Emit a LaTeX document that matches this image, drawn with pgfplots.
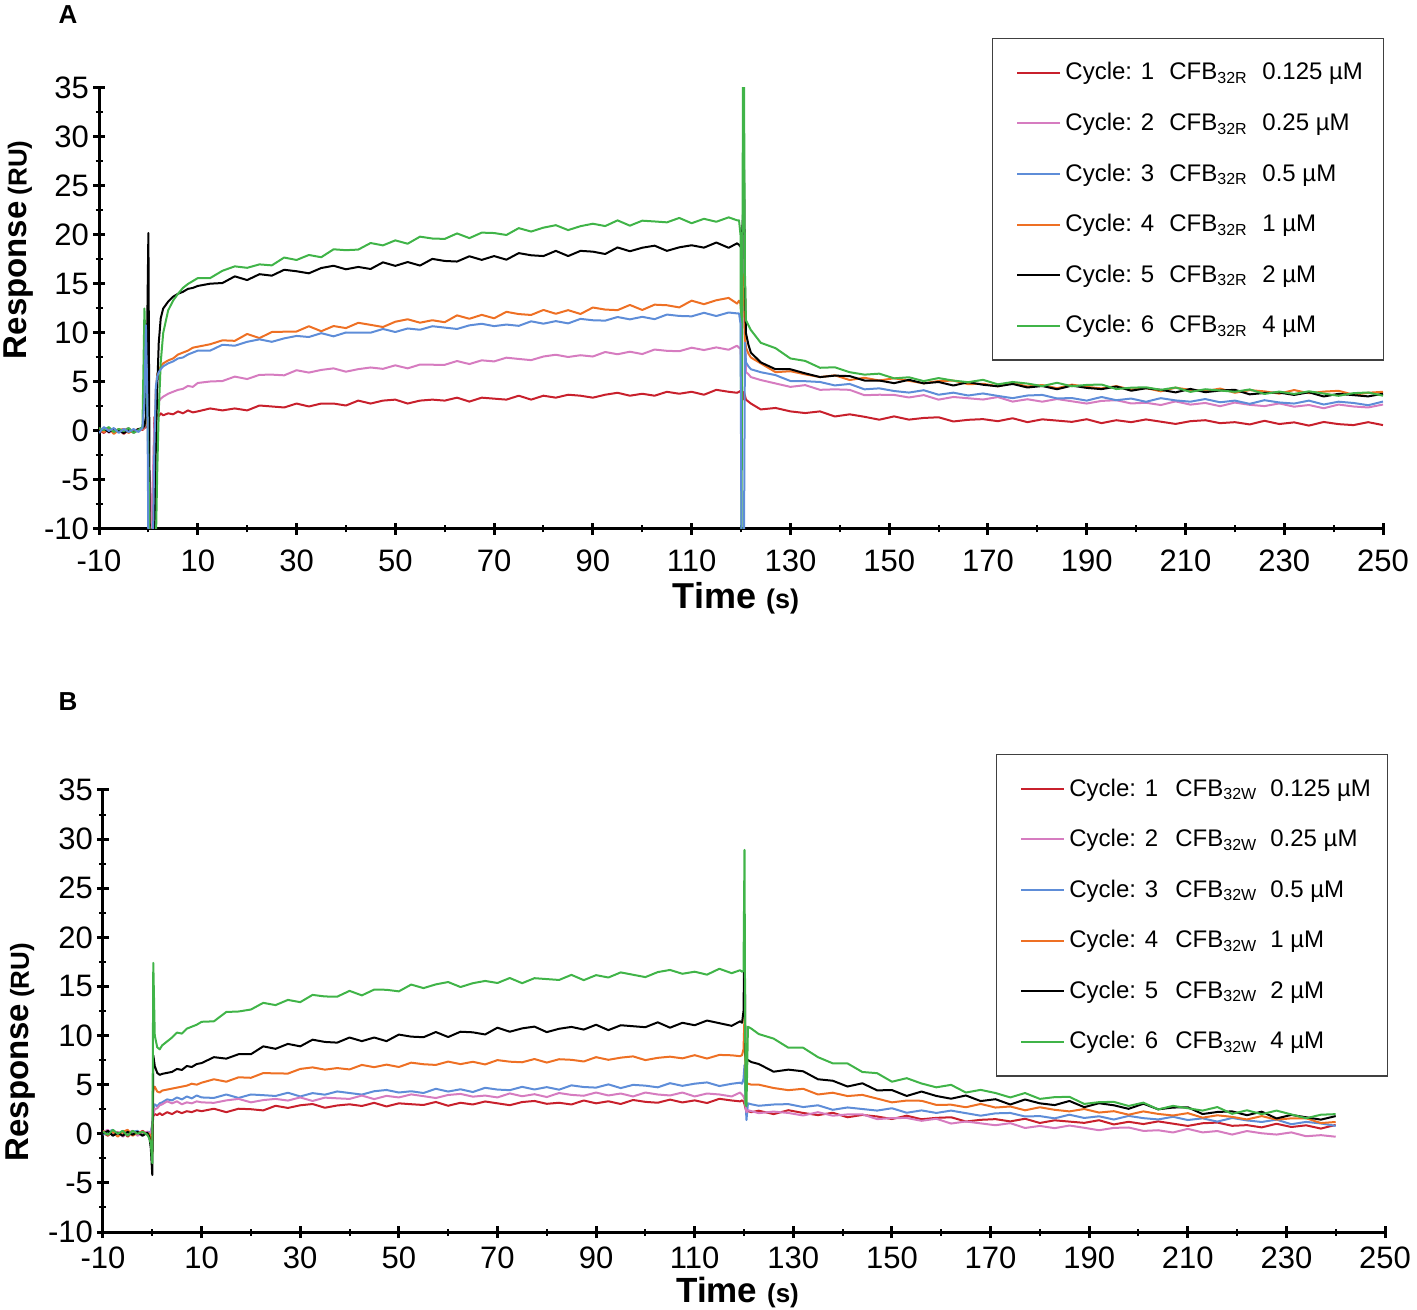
\documentclass[border=0pt]{standalone}
\usepackage{fontspec}
\setmainfont{Liberation Sans}
\usepackage{pgfplots}
\usepackage{pgfplotstable}
\pgfplotsset{compat=1.18}
\definecolor{c1}{RGB}{200,32,44}
\definecolor{c2}{RGB}{214,124,192}
\definecolor{c3}{RGB}{94,141,216}
\definecolor{c4}{RGB}{238,112,36}
\definecolor{c5}{RGB}{0,0,0}
\definecolor{c6}{RGB}{64,180,72}

\pgfplotstableread{
t r p b o k g
-10 0.1 0.0 -0.2 0.2 0.0 0.3
-9 -0.2 0.3 0.4 -0.1 0.2 0.1
-8 0.3 -0.2 0.0 0.3 -0.1 0.4
-7 -0.1 0.2 0.3 -0.3 0.2 -0.1
-6 0.2 -0.1 -0.2 0.1 0.0 0.2
-5 -0.3 0.1 0.2 0.2 -0.2 0.0
-4 0.1 0.3 -0.1 -0.2 0.1 0.3
-3 0.0 -0.2 0.2 0.1 -0.1 -0.2
-2 0.2 0.1 -0.1 0.0 0.2 0.1
-1.2 0.1 0.2 0.3 0.2 0.3 0.4
-0.8 0.3 0.4 3.0 0.5 0.5 12.5
-0.5 0.4 0.6 10.8 0.8 1.5 7.0
-0.2 0.6 0.8 3.0 1.2 12.0 2.0
0.0 0.5 0.5 -12 0.8 20.2 -3
0.3 -12 -12 -12 -12 -12 -12
0.9 -12 -5 -12 -12 -12 -12
1.2 1.4 0.5 -2 -3 -12 -12
1.5 1.5 2.2 4.5 4.0 -2 -12
1.8 1.7 2.8 5.6 5.8 4.5 -4
2.1 1.5 3.0 6.0 6.2 9.0 2.0
2.5 1.8 3.3 6.3 6.6 11.5 7.0
3.0 1.6 3.5 6.6 6.9 12.5 10.0
4.0 1.8 3.8 6.9 7.2 13.2 12.3
5.0 1.7 4.0 7.1 7.4 13.7 13.3
6.0 2.0 4.2 7.4 7.8 14.0 14.0
7.0 1.8 4.3 7.5 8.0 14.2 14.6
8.0 2.1 4.6 7.8 8.2 14.5 15.0
9.0 1.9 4.5 8.0 8.5 14.6 15.3
10 2.0 4.9 8.2 8.6 14.8 15.6
12.5 2.3 5.05 8.2 8.85 15.03 15.6
15 2.1 5.1 8.8 9.25 15.1 16.35
17.5 2.3 5.55 8.7 9.2 15.78 16.8
20 2.1 5.3 9.1 9.9 15.4 16.65
22.5 2.6 5.73 9.35 9.48 16.0 17.0
25 2.5 5.75 9.1 10.1 15.85 16.9
27.5 2.4 5.68 9.45 10.13 16.45 17.7
30 2.8 6.2 9.7 10.15 16.3 17.45
32.5 2.5 5.96 9.59 10.69 16.09 17.96
35 2.8 6.23 9.98 10.18 16.63 17.73
37.5 2.8 6.39 9.66 10.71 16.86 18.54
40 2.6 6.05 10.05 10.5 16.5 18.45
42.5 3.1 6.31 10.04 11.04 16.74 18.51
45 2.8 6.48 10.03 10.83 16.53 19.18
47.5 3.1 6.34 10.41 10.61 17.21 18.94
50 3.2 6.7 10.1 11.15 16.85 19.45
52.5 2.8 6.39 10.46 11.4 17.24 19.11
55 3.1 6.78 10.33 11.05 16.88 19.83
57.5 3.2 6.76 10.69 11.3 17.56 19.64
60 3.1 6.75 10.55 11.1 17.35 19.6
62.5 3.4 7.14 10.41 11.8 17.29 20.16
65 3.0 6.83 10.78 11.45 17.83 19.68
67.5 3.4 7.21 10.94 11.85 17.46 20.24
70 3.3 7.1 10.7 11.5 17.85 20.2
72.5 3.2 7.48 10.86 12.16 17.48 20.0
75 3.6 7.35 10.73 11.93 18.15 20.7
77.5 3.2 7.23 11.19 11.84 17.93 20.35
80 3.6 7.6 10.95 12.35 17.85 20.75
82.5 3.4 7.78 11.21 11.96 18.38 21.0
85 3.7 7.55 10.98 12.33 17.85 20.5
87.5 3.6 7.73 11.44 11.94 18.38 20.9
90 3.4 7.6 11.3 12.6 18.3 21.15
92.5 3.7 8.06 11.26 12.39 18.06 20.91
95 3.9 7.83 11.63 12.33 18.73 21.49
97.5 3.6 8.09 11.39 12.86 18.34 20.95
100 3.8 7.85 11.65 12.35 18.7 21.46
102.5 3.6 8.31 11.41 12.89 18.91 21.38
105 4.0 8.18 11.88 12.83 18.38 21.29
107.5 3.8 8.14 11.74 12.61 18.74 21.74
110 4.0 8.5 11.7 13.3 18.95 21.2
112.5 3.7 8.26 12.06 12.94 18.71 21.65
115 4.2 8.53 11.73 13.34 19.23 21.35
117.5 4.0 8.29 12.09 13.58 18.69 21.8
119.2 3.9 8.7 12.0 13.0 19.15 21.5
119.6 4.0 8.5 12.0 13.3 19.0 21.5
119.9 4.1 8.4 11.0 13.0 18.8 20.0
120.1 3.6 6.0 -12 12.0 19.0 -12
120.4 3.2 15.0 -12 16.0 22.0 36
120.6 4.0 24.0 -12 14.0 27.0 36
120.8 3.6 10.0 9.0 9.5 15.0 16.0
121.0 3.2 6.0 7.0 8.5 10.0 11.3
121.5 3.0 5.8 6.6 7.9 8.8 10.8
122 2.8 5.5 6.3 7.5 8.0 10.3
124 2.2 5.2 6.0 6.9 7.0 9.0
127 2.35 4.85 5.7 6.0 6.3 8.45
130 2.0 4.5 5.1 6.1 6.3 7.4
133 1.83 4.68 5.08 5.78 5.88 7.15
136 2.0 4.2 5.0 5.5 5.5 6.45
139 1.48 4.25 4.65 5.68 5.65 6.5
142 1.7 4.2 4.8 5.2 5.6 6.0
145 1.45 3.65 4.25 5.43 5.15 5.75
148 1.15 3.7 4.35 5.15 5.15 5.85
151 1.49 3.68 4.08 5.38 4.88 5.37
154 1.16 3.42 3.92 5.12 5.22 5.48
157 1.33 3.66 4.16 4.86 4.86 5.09
160 1.4 3.2 3.7 5.1 5.0 5.4
163 0.97 3.47 3.91 5.14 4.64 5.14
166 1.14 3.34 3.62 4.78 4.98 4.98
169 1.21 3.21 3.83 4.82 4.72 5.22
172 1.0 3.46 3.58 4.56 4.56 4.76
175 1.3 3.0 3.35 4.9 4.8 5.0
178 0.9 3.24 3.62 4.54 4.44 4.84
181 1.19 2.99 3.68 4.69 4.59 4.58
184 1.06 3.26 3.32 4.36 4.26 4.92
187 0.93 3.03 3.36 4.73 4.63 4.56
190 1.2 2.8 3.1 4.5 4.4 4.7
193 0.8 3.07 3.47 4.34 4.27 4.74
196 1.1 3.14 3.14 4.58 4.54 4.28
199 0.9 2.81 3.31 4.22 4.11 4.42
202 1.18 2.88 2.98 4.38 4.36 4.46
205 0.95 2.65 3.35 4.05 4.2 4.2
208 0.72 3.02 3.12 4.42 3.94 4.44
211 1.0 2.69 2.99 4.19 4.29 3.99
214 1.1 2.86 3.26 4.06 3.96 4.26
217 0.8 2.53 2.93 4.33 4.13 4.13
220 0.9 2.9 3.1 3.9 4.2 4.0
223 0.67 2.67 2.77 4.17 3.74 4.24
226 1.04 2.54 3.14 4.04 3.88 3.78
229 0.71 2.81 2.91 3.81 3.92 4.02
232 0.88 2.48 2.8 4.18 3.68 3.78
235 0.55 2.65 3.1 3.85 3.95 4.05
238 0.92 2.32 2.7 4.02 3.52 3.82
241 0.7 2.7 2.99 4.1 3.79 3.59
244 0.6 2.5 2.86 3.7 3.66 3.86
247 0.9 2.4 2.63 3.9 3.53 3.93
250 0.6 2.7 3.0 4.0 3.8 3.6
}\tA

\pgfplotstableread{
t r p b o k g
-10 0.1 0.2 -0.1 0.3 0.0 0.2
-9 -0.2 0.4 0.2 -0.1 0.3 -0.1
-8 0.3 -0.1 0.4 0.2 -0.2 0.4
-7 0.0 0.2 -0.2 -0.3 0.1 0.0
-6 0.2 -0.3 0.3 0.2 -0.2 0.3
-5 -0.3 0.1 0.0 0.4 0.2 -0.2
-4 0.2 0.3 0.2 -0.2 -0.1 0.3
-3 -0.1 -0.2 0.3 0.1 0.2 0.0
-2 0.3 0.1 -0.1 0.2 -0.2 0.2
-1 0.0 0.2 0.2 -0.1 0.1 -0.1
-0.6 0.1 0.1 0.2 0.0 -0.3 -0.5
-0.3 0.0 0.1 0.2 -0.5 -1.5 -1.0
0.0 0.5 0.8 1.0 -2 -4.2 -3.0
0.2 1.8 2.0 2.5 4.5 8 17.4
0.5 2.0 2.5 3.0 4.8 6.9 10.0
1.0 1.9 2.6 2.8 4.3 6.2 8.8
1.5 2.1 2.9 3.1 4.2 6.0 8.6
2.0 1.9 3.0 3.2 4.4 6.1 9.0
3.0 2.2 3.3 3.5 4.5 6.2 9.4
4.0 2.0 3.1 3.4 4.6 6.3 9.8
5 2.3 3.3 3.7 4.7 6.6 10.3
6 2.1 3.0 3.5 4.8 6.5 10.2
7 2.3 3.2 3.8 4.9 6.9 10.7
8 2.2 3.1 3.6 5.1 6.8 10.9
9 2.4 3.3 3.9 5.0 7.1 11.1
10 2.3 3.2 3.7 5.2 7.2 11.4
12.5 2.55 3.15 3.65 5.55 7.8 11.45
15 2.2 3.4 4.0 5.3 7.65 12.4
17.5 2.55 3.55 3.65 5.75 8.1 12.45
20 2.5 3.2 4.0 5.7 8.1 12.65
22.5 2.38 3.43 3.93 6.18 8.9 13.33
25 2.85 3.55 3.85 6.15 8.65 13.1
27.5 2.63 3.38 4.18 6.13 9.15 13.63
30 2.9 3.7 3.8 6.6 8.9 13.4
32.5 3.03 3.34 4.14 6.76 9.58 14.14
35 2.65 3.68 3.98 6.53 9.35 13.98
37.5 2.88 3.61 4.31 6.69 9.28 13.96
40 3.0 3.55 4.15 6.55 9.8 14.55
42.5 2.83 3.89 3.99 7.01 9.43 14.09
45 3.15 3.53 4.33 6.78 9.8 14.68
47.5 2.78 3.86 4.46 7.04 9.43 14.66
50 3.1 3.7 4.2 6.8 10.1 14.5
52.5 3.01 4.01 4.33 7.24 9.89 15.19
55 2.93 3.83 4.15 7.08 9.83 14.83
57.5 3.24 3.64 4.58 7.01 10.36 15.21
60 2.85 3.95 4.3 7.35 9.85 15.45
62.5 3.16 4.06 4.53 7.09 10.39 14.94
65 2.98 3.78 4.25 7.33 10.33 15.33
67.5 3.29 3.89 4.68 7.06 10.11 15.56
70 3.1 3.7 4.5 7.5 10.8 15.35
72.5 2.91 4.11 4.44 7.34 10.39 15.86
75 3.23 3.82 4.78 7.28 10.73 15.33
77.5 3.34 4.03 4.51 7.61 10.91 15.84
80 3.05 3.74 4.75 7.25 10.35 15.75
82.5 3.16 4.15 4.49 7.59 10.69 15.66
85 2.98 3.96 4.93 7.53 10.88 16.18
87.5 3.39 3.87 4.76 7.36 10.61 15.64
90 3.1 4.2 4.7 7.8 11.1 16.15
92.5 3.31 3.9 5.03 7.53 10.55 15.91
95 3.03 4.1 4.65 7.75 11.05 16.43
97.5 3.44 3.8 4.98 7.88 10.95 16.19
100 3.25 4.2 4.9 7.5 10.85 15.95
102.5 3.16 4.0 4.73 7.73 11.35 16.46
105 3.48 3.9 5.15 7.85 10.8 16.68
107.5 3.19 4.2 4.88 7.68 11.3 16.29
110 3.4 3.8 5.1 8.0 11.05 16.5
112.5 3.13 4.1 5.23 7.66 11.53 16.2
115 3.56 4.0 4.86 8.03 11.26 16.8
117.5 3.39 3.8 5.09 7.99 10.99 16.35
119.2 3.3 4.2 5.2 7.9 11.45 16.65
119.6 3.4 4.0 5.1 8.0 11.3 16.5
119.9 3.3 3.8 5.6 8.6 12.5 16.6
120.1 3.0 3.5 7.0 12.0 20.5 28.9
120.3 2.6 2.8 3.5 6.0 8.0 3.0
120.5 2.2 2.2 1.4 5.0 7.5 2.8
120.8 2.3 2.4 3.1 5.1 7.5 10.9
121.5 2.2 2.3 3.0 5.0 7.3 10.7
123 2.35 2.1 2.85 5.0 7.1 10.15
126 2.0 2.26 2.98 4.66 6.32 9.69
129 2.4 2.12 3.02 4.44 6.53 8.76
132 2.12 1.86 2.72 4.58 6.36 8.76
135 1.9 2.2 2.9 4.0 5.55 7.8
138 2.14 1.84 2.44 4.18 5.4 7.17
141 1.68 1.97 2.68 3.84 4.81 7.16
144 1.92 1.98 2.52 3.96 5.14 6.29
147 1.76 1.49 2.36 3.58 4.42 6.17
150 1.5 1.6 2.6 3.2 4.45 5.3
153 1.84 1.61 2.14 3.38 3.85 5.66
156 1.48 1.32 2.38 3.36 4.3 5.12
159 1.62 1.53 2.12 2.94 3.85 4.73
162 1.68 1.04 2.36 2.96 3.57 4.98
165 1.25 1.25 2.1 2.7 3.9 4.2
168 1.42 1.06 1.84 3.04 3.33 4.47
171 1.49 0.87 2.08 2.67 3.52 4.15
174 1.26 1.08 2.12 2.78 2.98 3.7
177 1.53 0.59 1.76 2.39 3.49 4.15
180 1.1 0.8 1.8 2.7 3.1 3.55
183 1.37 0.57 1.57 2.44 2.92 3.73
186 1.24 0.84 1.94 2.28 3.34 3.76
189 1.11 0.61 1.61 2.52 2.71 3.04
192 1.38 0.36 1.78 2.16 3.11 3.22
195 0.95 0.6 1.45 2.3 2.9 3.25
198 1.22 0.64 1.82 1.94 2.54 2.83
201 0.99 0.29 1.59 2.28 3.06 3.17
204 1.26 0.36 1.46 2.02 2.49 2.48
207 1.03 0.13 1.73 1.86 2.67 2.84
210 0.8 0.5 1.4 2.1 2.7 2.6
213 1.07 0.14 1.57 1.64 2.01 2.36
216 1.14 0.28 1.24 1.88 2.22 2.72
219 0.81 -0.08 1.61 1.72 2.28 2.03
222 0.88 0.28 1.36 1.46 1.89 2.39
225 0.65 0.05 1.2 1.8 2.25 2.0
228 1.02 -0.08 1.44 1.44 1.56 2.36
231 0.69 0.14 0.97 1.57 1.92 1.97
234 0.86 -0.25 1.21 1.58 1.68 1.58
237 0.53 -0.14 1.05 1.09 1.44 1.94
240 0.9 -0.3 0.8 1.2 1.8 2.0
}\tB

\newcommand{\lentA}[2]{\makebox[52pt][l]{Cycle: #1}\makebox[46.5pt][l]{CFB\textsubscript{32R}}\makebox[46.5pt][l]{#2}}
\newcommand{\lentB}[2]{\makebox[53pt][l]{Cycle: #1}\makebox[47.5pt][l]{CFB\textsubscript{32W}}\makebox[44.5pt][l]{#2}}

\pgfplotsset{
  sgram/.style={
    scale only axis, anchor=south west,
    xmin=-10, xmax=250, ymin=-10, ymax=35,
    axis x line=bottom, axis y line=left,
    axis line style={-, line width=1.5pt, black},
    xtick={-10,10,...,250}, minor xtick={0,20,...,240},
    ytick={-10,-5,...,35}, minor ytick={-7.5,-2.5,...,32.5},
    tick align=center,
    major tick length=6pt, minor tick length=3.5pt,
    major tick style={black, line width=1.5pt},
    minor tick style={black, line width=1pt},
    tick label style={font=\fontsize{15.5}{15.5}\selectfont},
    xticklabel style={inner sep=1pt},
    yticklabel style={xshift=1.5pt},
    /pgf/number format/assume math mode=true,
    legend cell align=left,
    legend style={draw=black!75, line width=0.6pt, fill=white,
      font=\fontsize{12}{12}\selectfont, anchor=north east,
      inner xsep=12pt, inner ysep=10pt, row sep=11.1pt},
    legend image code/.code={\draw[#1, line width=1pt] (0pt,0pt) -- (20pt,0pt); \path (0pt,0pt) -- (21.5pt,0pt);},
    every axis plot/.append style={line width=1pt, line join=round},
  },
}

\begin{document}
\begin{tikzpicture}
\useasboundingbox (0,0) rectangle (708.5pt,655pt);
\node[font=\bfseries\fontsize{13}{13}\selectfont] at (34pt,647.5pt) {A};
\node[font=\bfseries\fontsize{13}{13}\selectfont] at (34pt,304pt) {B};

\begin{axis}[sgram, at={(49.5pt,390.5pt)}, width=642pt, height=220.5pt,
  xticklabel style={yshift=-6.2pt},
  xlabel={\bfseries\fontsize{18}{18}\selectfont Time {\fontsize{13.5}{13.5}\selectfont (s)}},
  ylabel={\bfseries\fontsize{16.5}{16.5}\selectfont Response\hspace{3pt}{\fontsize{13}{13}\selectfont (RU)}},
  xlabel style={at={(axis description cs:0.496,-0.156)}, anchor=center},
  ylabel style={at={(axis description cs:-0.0625,0.633)}, anchor=center},
  legend style={at={(axis description cs:1.0008,1.1134)}}]
\addlegendimage{c1}\addlegendentry{\lentA{1}{0.125 µM}}
\addlegendimage{c2}\addlegendentry{\lentA{2}{0.25 µM}}
\addlegendimage{c3}\addlegendentry{\lentA{3}{0.5 µM}}
\addlegendimage{c4}\addlegendentry{\lentA{4}{1 µM}}
\addlegendimage{c5}\addlegendentry{\lentA{5}{2 µM}}
\addlegendimage{c6}\addlegendentry{\lentA{6}{4 µM}}
\addplot[c1, forget plot] table[x=t, y=r]{\tA};
\addplot[c2, forget plot] table[x=t, y=p]{\tA};
\addplot[c4, forget plot] table[x=t, y=o]{\tA};
\addplot[c5, forget plot] table[x=t, y=k]{\tA};
\addplot[c6, forget plot] table[x=t, y=g]{\tA};
\addplot[c3, forget plot] table[x=t, y=b]{\tA};
\end{axis}

\begin{axis}[sgram, at={(51.5pt,39pt)}, width=641pt, height=221pt,
  xticklabel style={yshift=-3pt},
  xlabel={\bfseries\fontsize{17.5}{17.5}\selectfont Time {\fontsize{13}{13}\selectfont (s)}},
  ylabel={\bfseries\fontsize{16.5}{16.5}\selectfont Response\hspace{3pt}{\fontsize{13}{13}\selectfont (RU)}},
  xlabel style={at={(axis description cs:0.495,-0.1606)}, anchor=base, inner sep=0pt},
  ylabel style={at={(axis description cs:-0.064,0.407)}, anchor=center},
  legend style={at={(axis description cs:1.0023,1.0814)}}]
\addlegendimage{c1}\addlegendentry{\lentB{1}{0.125 µM}}
\addlegendimage{c2}\addlegendentry{\lentB{2}{0.25 µM}}
\addlegendimage{c3}\addlegendentry{\lentB{3}{0.5 µM}}
\addlegendimage{c4}\addlegendentry{\lentB{4}{1 µM}}
\addlegendimage{c5}\addlegendentry{\lentB{5}{2 µM}}
\addlegendimage{c6}\addlegendentry{\lentB{6}{4 µM}}
\addplot[c1, forget plot] table[x=t, y=r]{\tB};
\addplot[c3, forget plot] table[x=t, y=b]{\tB};
\addplot[c2, forget plot] table[x=t, y=p]{\tB};
\addplot[c4, forget plot] table[x=t, y=o]{\tB};
\addplot[c5, forget plot] table[x=t, y=k]{\tB};
\addplot[c6, forget plot] table[x=t, y=g]{\tB};
\end{axis}
\end{tikzpicture}
\end{document}
